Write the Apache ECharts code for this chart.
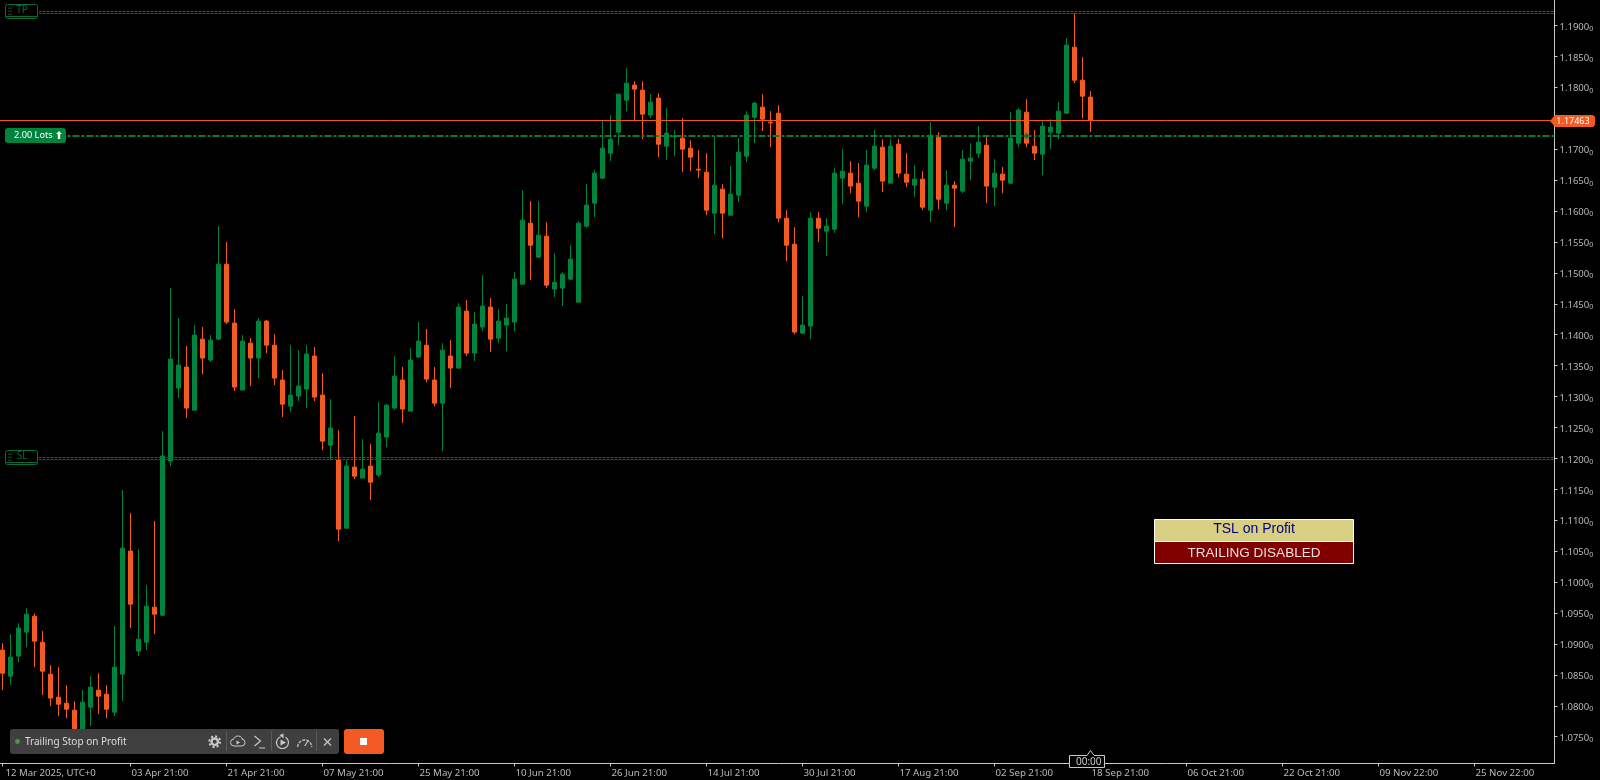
<!DOCTYPE html>
<html><head><meta charset="utf-8">
<style>html,body{margin:0;padding:0;background:#000}#c{width:1600px;height:780px}</style>
<script src="https://cdn.jsdelivr.net/npm/echarts@6/dist/echarts.min.js"></script>
</head><body><div id="c"></div>
<script>
const opens=[1.08900,1.08479,1.08803,1.09191,1.09449,1.09029,1.08511,1.08140,1.08042,1.07929,
1.07557,1.07978,1.08253,1.08188,1.07897,1.08511,1.10501,1.08884,1.09029,1.09595,
1.09465,1.11956,1.13137,1.13476,1.12780,1.13928,1.13590,1.13928,1.15140,1.14187,
1.13104,1.13863,1.13622,1.14220,1.13831,1.13266,1.12845,1.13007,1.13120,1.13654,
1.13023,1.12214,1.11972,1.10872,1.11859,1.11681,1.11875,1.11730,1.12344,1.12813,
1.13266,1.12764,1.13638,1.13831,1.13266,1.12893,1.13654,1.13460,1.14381,1.13702,
1.14123,1.14446,1.13944,1.14155,1.14204,1.14817,1.15803,1.15254,1.15593,1.14737,
1.14753,1.14898,1.14526,1.15755,1.16126,1.16531,1.16935,1.17275,1.17792,1.18035,
1.17954,1.17550,1.17825,1.17048,1.17200,1.17178,1.17016,1.16676,1.16628,1.15965,
1.16353,1.15932,1.16256,1.16887,1.17517,1.17679,1.17437,1.17582,1.15884,1.15463,
1.14025,1.14139,1.15884,1.15674,1.15706,1.16531,1.16612,1.16450,1.16078,1.16693,
1.17032,1.16450,1.17080,1.16596,1.16418,1.16515,1.16013,1.17194,1.16126,1.16418,
1.16321,1.16806,1.16935,1.17064,1.16385,1.16596,1.16450,1.17097,1.17598,1.17048,
1.16919,1.17275,1.17259,1.17582,1.18649,1.18115,1.17841];
const closes=[1.08527,1.08787,1.09256,1.09481,1.09045,1.08560,1.08124,1.08026,1.07945,1.07525,
1.08059,1.08302,1.08156,1.07945,1.08625,1.10549,1.09643,1.09077,1.09611,1.09481,
1.12037,1.13605,1.13508,1.12813,1.13993,1.13622,1.13912,1.15140,1.14204,1.13153,
1.13896,1.13622,1.14220,1.13831,1.13298,1.12877,1.13023,1.13169,1.13686,1.12991,
1.12279,1.12490,1.10856,1.11875,1.11713,1.11826,1.11616,1.12408,1.12861,1.13330,
1.12797,1.13590,1.13896,1.13282,1.12893,1.13750,1.13460,1.14446,1.13702,1.14171,
1.14462,1.13928,1.14220,1.14268,1.14898,1.15852,1.15447,1.15609,1.14801,1.14849,
1.14979,1.15221,1.15803,1.16094,1.16612,1.17016,1.17161,1.17889,1.18067,1.17970,
1.17566,1.17760,1.17080,1.17259,1.17215,1.17000,1.16870,1.16662,1.16013,1.16418,
1.15965,1.16272,1.16951,1.17550,1.17744,1.17485,1.17425,1.15884,1.15447,1.14042,
1.14155,1.15884,1.15722,1.15755,1.16612,1.16644,1.16402,1.16159,1.16741,1.17048,
1.16483,1.17048,1.16612,1.16466,1.16515,1.16062,1.17226,1.16191,1.16418,1.16369,
1.16838,1.16855,1.17113,1.16402,1.16612,1.16499,1.17178,1.17631,1.17097,1.16935,
1.17372,1.17356,1.17614,1.18681,1.18115,1.17857,1.17463];
const highs=[1.09012,1.09158,1.09336,1.09579,1.09497,1.09207,1.08657,1.08625,1.08334,1.08075,
1.08253,1.08479,1.08527,1.08334,1.09288,1.11487,1.11114,1.10532,1.09951,1.10986,
1.12441,1.14753,1.14268,1.13815,1.14155,1.14123,1.13993,1.15755,1.15496,1.14413,
1.13993,1.13944,1.14268,1.14236,1.14009,1.13427,1.13831,1.13750,1.13831,1.13799,
1.13378,1.12958,1.12457,1.11972,1.12683,1.12311,1.12230,1.12909,1.12877,1.13654,
1.13476,1.13782,1.14204,1.14090,1.13476,1.13863,1.13912,1.14510,1.14559,1.14365,
1.14962,1.14591,1.14413,1.14494,1.15011,1.16337,1.16159,1.16159,1.15819,1.15318,
1.15011,1.15447,1.15835,1.16434,1.16660,1.17453,1.17550,1.17889,1.18310,1.18099,
1.18099,1.17889,1.17905,1.17663,1.17307,1.17501,1.17145,1.16984,1.16935,1.17210,
1.16434,1.16725,1.17178,1.17614,1.17760,1.17889,1.17614,1.17711,1.16013,1.15739,
1.14623,1.15981,1.15981,1.15884,1.16693,1.17000,1.16806,1.16774,1.16984,1.17307,
1.17161,1.17161,1.17161,1.16935,1.16741,1.16644,1.17437,1.17275,1.16660,1.16483,
1.16984,1.17097,1.17372,1.17194,1.16838,1.16709,1.17598,1.17663,1.17808,1.17307,
1.17453,1.17485,1.17760,1.18795,1.19199,1.18487,1.17938];
const lows=[1.08253,1.08334,1.08706,1.08948,1.08625,1.08172,1.07994,1.07832,1.07800,1.07363,
1.07363,1.07671,1.07864,1.07800,1.07832,1.08075,1.09256,1.08803,1.08900,1.09158,
1.09449,1.11875,1.12975,1.12651,1.12780,1.13362,1.13557,1.13912,1.14171,1.13088,
1.13104,1.13169,1.13298,1.13702,1.13185,1.12667,1.12748,1.12926,1.12813,1.12926,
1.12134,1.11972,1.10662,1.10856,1.11665,1.11681,1.11325,1.11697,1.12182,1.12780,
1.12570,1.12764,1.13622,1.13233,1.12845,1.12117,1.13137,1.13444,1.13654,1.13573,
1.14058,1.13718,1.13863,1.13735,1.14058,1.14817,1.14881,1.15238,1.14753,1.14607,
1.14462,1.14881,1.14526,1.15722,1.15900,1.16515,1.16806,1.17064,1.17614,1.17469,
1.17161,1.17501,1.16870,1.16822,1.16887,1.16628,1.16644,1.16531,1.15932,1.15626,
1.15561,1.15932,1.16143,1.16790,1.17096,1.17291,1.17032,1.15819,1.15189,1.14009,
1.14009,1.13928,1.15496,1.15270,1.15642,1.16110,1.16288,1.15900,1.15981,1.16660,
1.16305,1.16450,1.16547,1.16385,1.16224,1.16013,1.15819,1.16029,1.16013,1.15739,
1.16288,1.16499,1.16855,1.16126,1.16078,1.16288,1.16434,1.17032,1.17032,1.16822,
1.16580,1.17000,1.17161,1.17566,1.18067,1.17501,1.17275];
const yTicks=[1.075,1.08,1.085,1.09,1.095,1.1,1.105,1.11,1.115,1.12,1.125,1.13,1.135,1.14,1.145,1.15,1.155,1.16,1.165,1.17,1.175,1.18,1.185,1.19];
const tickBars=[0,16,28,40,52,64,76,88,100,112,124,136,148,160,172,184];
const tickLabels=['12 Mar 2025, UTC+0','03 Apr 21:00','21 Apr 21:00','07 May 21:00','25 May 21:00','10 Jun 21:00','26 Jun 21:00','14 Jul 21:00','30 Jul 21:00','17 Aug 21:00','02 Sep 21:00','18 Sep 21:00','06 Oct 21:00','22 Oct 21:00','09 Nov 22:00','25 Nov 22:00'];
const slots=195;
const currentPrice=1.17463, tpLevel=1.192092, slLevel=1.119982, entryLevel=1.172124, entryBar=128;
const panelTitle='Trailing Stop on Profit', tslTitle='TSL on Profit', tslState='TRAILING DISABLED', lotsText='2.00 Lots';

const GREEN='#00843D', ORANGE='#F45B24', LINE='#0B6B3A', AX='#c8c8c8', TXT='#b9b9b9';
const FONT='Tahoma, "Noto Sans", sans-serif';
const cats=new Array(slots).fill('');
tickBars.forEach((b,k)=>{cats[b]=tickLabels[k];});
const rows=opens.map((o,i)=>[i,o,closes[i],lows[i],highs[i]]);
const hline=(v,color,width,dash)=>({yAxis:v,lineStyle:{color,width,type:dash}});

const chart=echarts.init(document.getElementById('c'),null,{renderer:'canvas'});
chart.setOption({
 animation:false,backgroundColor:'#000',
 grid:{left:2.5,right:45.5,top:0,bottom:16.5,show:false},
 xAxis:{type:'category',data:cats,boundaryGap:false,position:'bottom',
  axisLine:{show:true,onZero:false,lineStyle:{color:AX,width:1}},
  axisTick:{show:true,length:3,lineStyle:{color:AX},interval:(i,v)=>v!==''},
  axisLabel:{show:true,interval:(i,v)=>v!=='',align:'left',margin:5,color:TXT,fontFamily:FONT,fontSize:9.7,hideOverlap:false,
   formatter:v=>v===tickLabels[0]?'{f|'+v+'}':'{n|'+v+'}',
   rich:{f:{padding:[0,0,0,3],color:TXT,fontFamily:FONT,fontSize:9.6},n:{padding:[0,0,0,1],color:TXT,fontFamily:FONT,fontSize:9.7}}},
  splitLine:{show:false}},
 yAxis:{type:'value',position:'right',scale:true,min:1.070669,max:1.194113,
  axisLine:{show:true,onZero:false,lineStyle:{color:AX,width:1}},
  axisTick:{show:true,length:3,lineStyle:{color:AX},customValues:yTicks},
  axisLabel:{show:true,customValues:yTicks,margin:5,color:TXT,fontFamily:FONT,fontSize:9.5,padding:[3,0,0,0],
   formatter:v=>'{m|'+v.toFixed(4)+'}{s|0}',
   rich:{m:{color:TXT,fontFamily:FONT,fontSize:9.5},s:{color:TXT,fontFamily:FONT,fontSize:7,padding:[4,0,0,0]}}},
  splitLine:{show:false}},
 series:[{type:'candlestick',data:rows,encode:{x:0,y:[1,2,3,4]},barWidth:4,clip:false,
  itemStyle:{color:GREEN,color0:ORANGE,borderColor:GREEN,borderColor0:ORANGE,borderWidth:1},
  markLine:{silent:true,symbol:'none',animation:false,precision:6,label:{show:false},
   data:[
    hline(tpLevel+0.000162,LINE,1,[3,1]),hline(tpLevel-0.000162,LINE,1,[3,1]),
    hline(slLevel+0.000162,LINE,1,[3,1]),hline(slLevel-0.000162,LINE,1,[3,1]),
    hline(entryLevel,'#0A7A3C',2,[7,2,3,2]),
    hline(currentPrice,'#F2551E',1,'solid')
   ]}},
  {type:'scatter',data:[[entryBar,entryLevel]],symbol:'diamond',symbolSize:7,itemStyle:{color:'#0F6B3A'},silent:true,z:6}
 ]
});
const py=v=>chart.convertToPixel({yAxisIndex:0},v);
const W='#c8c8c8', Z=100;
const txt=(x,y,text,fill,size,align,family,weight)=>({type:'text',z:Z+2,silent:true,x,y,style:{text,fill,fontSize:size,fontFamily:family||FONT,fontWeight:weight||'normal',align:align||'left',verticalAlign:'middle'}});
const rect=(x,y,w,h,fill,stroke,r,lw)=>({type:'rect',z:Z,silent:true,shape:{x,y,width:w,height:h,r:r||0},style:{fill:fill||'none',stroke:stroke||'none',lineWidth:lw||1}});
const ln=(x1,y1,x2,y2,c,lw)=>({type:'line',z:Z+1,silent:true,shape:{x1,y1,x2,y2},style:{stroke:c||W,lineWidth:lw||1,fill:'none'}});
const arc=(cx,cy,r,a,b,c,lw,dash)=>({type:'arc',z:Z+1,silent:true,shape:{cx,cy,r,startAngle:a,endAngle:b},style:{stroke:c||W,lineWidth:lw||1,fill:'none',lineDash:dash||null}});
const poly=(points,fill,stroke,lw)=>({type:'polygon',z:Z+1,silent:true,shape:{points},style:{fill:fill||'none',stroke:stroke||'none',lineWidth:lw||1}});
const pline=(points,c,lw)=>({type:'polyline',z:Z+1,silent:true,shape:{points},style:{stroke:c||W,lineWidth:lw||1,fill:'none'}});
const PI=Math.PI;
function levelBox(label,yMid){
 const t=Math.round(yMid)-8;
 const out=[rect(0,t-2,39,19,'#000'),rect(5.5,t+.5,32,14,'#000','#0B6B3A',2),ln(6,t+12.5,37,t+12.5,'#0B6B3A',1),txt(22,t+6.5,label,'#0B6B3A',10,'center')];
 [0,1,2].forEach(k=>{out.push(rect(8.5,t+3.5+k*3,1,1.5,'#0B6B3A'),rect(10.5,t+3.5+k*3,1,1.5,'#0B6B3A'));});
 return out;
}
const tagY=Math.round(py(currentPrice));
const entryY=Math.round(py(entryLevel));
const g=[
 ln(0,120.5,3,120.5,'#F2551E'),ln(0,763.5,3,763.5,AX),
 ...levelBox('TP',py(tpLevel)),
 ...levelBox('SL',py(slLevel)),
 rect(0,entryY-9,67,18,'#000'),
 rect(5,entryY-8,61,15,GREEN,null,3),
 txt(14,entryY-.5,lotsText,'#fff',9.2),
 poly([[59,entryY-5],[62,entryY-2],[60.2,entryY-2],[60.2,entryY+3],[57.8,entryY+3],[57.8,entryY-2],[56,entryY-2]],'#fff'),
 // price tag
 poly([[1550,tagY],[1555,tagY-6],[1593,tagY-6],[1595,tagY-4],[1595,tagY+4],[1593,tagY+6],[1555,tagY+6]],ORANGE),
 txt(1573,tagY,currentPrice.toFixed(5),'#fff',9,'center'),
 // TSL panel
 rect(1154.5,519.5,199,22,'#D8CF82','#fff'),
 rect(1154.5,541.5,199,22,'#800000','#fff'),
 txt(1254,529,tslTitle,'#000080',14,'center','"Liberation Sans"'),
 txt(1254,553,tslState,'#e8e0e0',13.5,'center','"Liberation Sans"'),
 // time tag
 poly([[1069.5,755.5],[1087,755.5],[1090.5,750.5],[1094,755.5],[1104.5,755.5],[1104.5,767.5],[1069.5,767.5]],'#000',W),
 txt(1076,762.5,'00:00',W,10),
 rect(1072,757,1,1,W),rect(1072,760,1,1,W),rect(1072,763,1,1,W),rect(1072,766,1,1,W),rect(1074,757,1,1,W),rect(1074,760,1,1,W),rect(1074,763,1,1,W),rect(1074,766,1,1,W),
 // bottom toolbar
 rect(10,729,329,25,'#3f3f3f',null,3),
 {type:'circle',z:Z+1,silent:true,shape:{cx:17.5,cy:741.5,r:2.4},style:{fill:'#4E9A45'}},
 txt(25,742,panelTitle,'#dddddd',10),
 // gear
 {type:'circle',z:Z+1,silent:true,shape:{cx:214.7,cy:741.7,r:3.2},style:{fill:'none',stroke:W,lineWidth:2.4}},
 {type:'circle',z:Z+1,silent:true,shape:{cx:214.7,cy:741.7,r:5.4},style:{fill:'none',stroke:W,lineWidth:2,lineDash:[2.1,2.1]}},
 // separators
 ln(226.5,731,226.5,751,'#5a5a5a'),ln(271.5,731,271.5,751,'#5a5a5a'),ln(316.5,731,316.5,751,'#5a5a5a'),
 // cloud
 arc(234,742.5,3.5,PI/2,3*PI/2,W),arc(238,741,5,1.15*PI,1.85*PI,W),arc(241.5,742.5,3.5,-PI/2,PI/2,W),ln(234,746,241.5,746,W),
 poly([[236.5,740.5],[240,742.5],[236.5,744.5]],W),
 // terminal
 pline([[254.5,736],[260.5,741],[254.5,746]],W,1.2),ln(259,748,265,748,W,1),
 // replay
 arc(282.5,742.5,6,-PI/3,-PI*0.6+2*PI,W,1.2),poly([[279.5,735],[283.5,733.5],[283.5,738.5]],W),poly([[280.5,739.5],[286,742.5],[280.5,745.5]],W),
 // gauge
 arc(304.7,747,7,PI,2*PI,W,1.3,[3,1.2]),ln(304.7,746,308,741,W,1.2),
 // close
 ln(324,738.5,331,745.5,W,1.2),ln(331,738.5,324,745.5,W,1.2),
 // stop button
 rect(344,729,40,25,ORANGE,null,3),
 rect(360,738,7,7,'#fff')
];
chart.setOption({graphic:{elements:g}});
</script></body></html>
